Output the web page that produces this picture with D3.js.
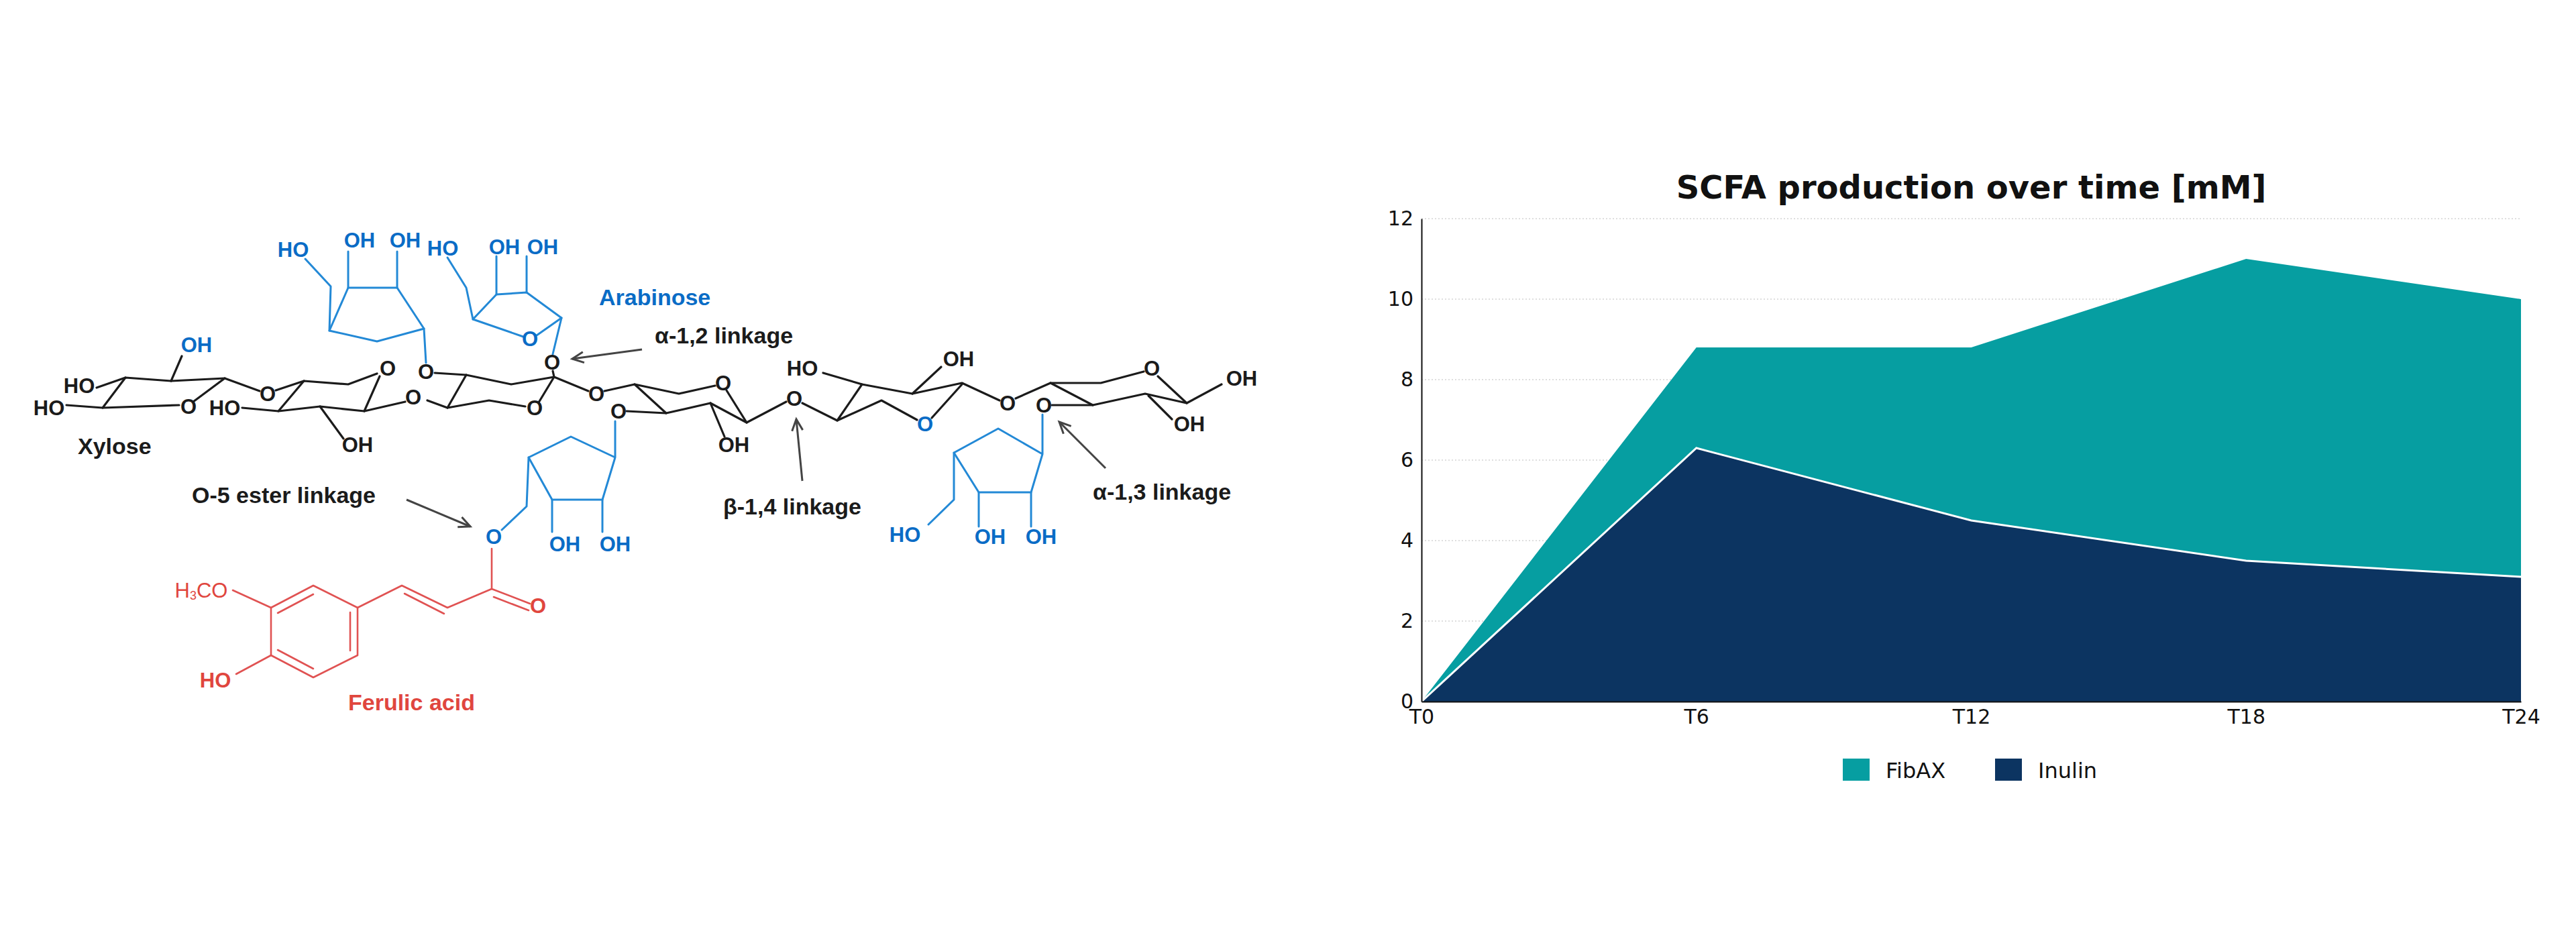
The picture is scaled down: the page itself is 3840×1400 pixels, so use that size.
<!DOCTYPE html>
<html>
<head>
    <meta charset="utf-8">
    <title>Arabinoxylan and SCFA production</title>
    <script src="https://d3js.org/d3.v7.min.js"></script>
    <style>
        body { margin: 0; background: white; }
        .atom { font-family: "Liberation Sans", Arial, sans-serif; font-weight: bold; font-size: 31px; }
        .note { font-family: "Liberation Sans", Arial, sans-serif; font-weight: bold; font-size: 34px; }
        .title { font-family: "DejaVu Sans", sans-serif; font-weight: bold; font-size: 48px; fill: #111; }
        .tick text { font-family: "DejaVu Sans", sans-serif; font-size: 30px; fill: #111; }
        .legend text { font-family: "DejaVu Sans", sans-serif; font-size: 32px; fill: #111; }
    </style>
</head>
<body>
<script>
    // chart values
    var timePoints = ["T0", "T6", "T12", "T18", "T24"];
    var fibaxValues = [0, 8.8, 8.8, 11.0, 10.0];
    var inulinValues = [0, 6.3, 4.5, 3.5, 3.1];
    var yTicks = [0, 2, 4, 6, 8, 10, 12];
    var seriesNames = ["FibAX", "Inulin"];
    var seriesColors = ["#069ea1", "#0c3461"];

    // structure drawing (pixel layout of the illustration)
    var blackBonds = [
        [[144,578],[187,563],[255,568],[335,564],[387,583]],
        [[255,568],[271,531]],
        [[335,564],[288,599]],
        [[267,604],[153,608],[99,604]],
        [[153,608],[187,563]],
        [[361,608],[415,613],[453,568],[519,573],[562,557]],
        [[411,582],[453,568]],
        [[566,561],[543,613]],
        [[415,613],[477,606],[543,613],[604,599]],
        [[477,606],[512,654]],
        [[648,556],[695,559],[762,573],[826,562]],
        [[824,553],[826,562],[877,583]],
        [[826,562],[803,600]],
        [[637,597],[667,608],[729,597],[783,606]],
        [[667,608],[695,559]],
        [[901,583],[946,573],[1012,587],[1066,575]],
        [[1083,582],[1113,630],[1172,599]],
        [[934,613],[993,616],[1059,601],[1113,630]],
        [[946,573],[993,616]],
        [[1059,601],[1080,651]],
        [[1196,601],[1248,627],[1314,597],[1367,626]],
        [[1227,556],[1285,573],[1360,587],[1434,571],[1490,597]],
        [[1285,573],[1248,627]],
        [[1360,587],[1403,547]],
        [[1434,573],[1389,623]],
        [[1514,594],[1566,571],[1641,571],[1705,554]],
        [[1726,561],[1769,601],[1821,573]],
        [[1568,604],[1629,604],[1707,587],[1769,601]],
        [[1566,571],[1629,604]],
        [[1712,590],[1747,625]]
    ];
    var blueBonds = [
        [[632,490],[562,509],[491,493],[519,429],[592,429],[632,490]],
        [[632,490],[635,541]],
        [[491,493],[493,427],[455,386]],
        [[519,429],[519,375]],
        [[592,429],[592,375]],
        [[780,502],[705,476],[740,439],[785,436],[837,474],[800,500]],
        [[705,476],[695,429],[667,384]],
        [[740,439],[740,382]],
        [[785,436],[785,382]],
        [[837,474],[824,528]],
        [[917,628],[917,682],[851,651],[788,682],[823,745],[898,745],[917,682]],
        [[788,682],[785,755],[748,790]],
        [[823,745],[823,793]],
        [[898,745],[898,793]],
        [[1554,618],[1554,677],[1488,639],[1422,675],[1459,734],[1537,734],[1554,677]],
        [[1422,675],[1422,745],[1384,782]],
        [[1459,734],[1459,785]],
        [[1537,734],[1537,785]]
    ];
    var redBonds = [
        [[733,818],[733,878],[790,900]],
        [[736,890],[788,910]],
        [[733,878],[667,906],[599,873],[533,906]],
        [[603,885],[662,915]],
        [[404,906],[467,873],[533,906],[533,977],[467,1010],[404,977],[404,906]],
        [[414,914],[467,886]],
        [[522,913],[522,970]],
        [[414,969],[467,997]],
        [[347,880],[404,906]],
        [[352,1005],[404,977]]
    ];
    var atomLabels = [
        {t:"HO", x:118, y:575, c:"k"}, {t:"HO", x:73, y:608, c:"k"},
        {t:"O", x:281, y:606, c:"k"}, {t:"HO", x:335, y:608, c:"k"},
        {t:"O", x:399, y:587, c:"k"}, {t:"O", x:578, y:549, c:"k"},
        {t:"OH", x:533, y:663, c:"k"}, {t:"O", x:616, y:592, c:"k"},
        {t:"O", x:635, y:554, c:"k"}, {t:"O", x:823, y:540, c:"k"},
        {t:"O", x:797, y:608, c:"k"}, {t:"O", x:889, y:587, c:"k"},
        {t:"O", x:922, y:613, c:"k"}, {t:"O", x:1078, y:571, c:"k"},
        {t:"OH", x:1094, y:663, c:"k"}, {t:"O", x:1184, y:594, c:"k"},
        {t:"HO", x:1196, y:549, c:"k"}, {t:"OH", x:1429, y:535, c:"k"},
        {t:"O", x:1502, y:601, c:"k"}, {t:"O", x:1556, y:604, c:"k"},
        {t:"O", x:1717, y:549, c:"k"}, {t:"OH", x:1851, y:564, c:"k"},
        {t:"OH", x:1773, y:632, c:"k"},
        {t:"OH", x:293, y:514, c:"b"},
        {t:"HO", x:437, y:372, c:"b"}, {t:"OH", x:536, y:358, c:"b"}, {t:"OH", x:604, y:358, c:"b"},
        {t:"HO", x:660, y:370, c:"b"}, {t:"OH", x:752, y:368, c:"b"}, {t:"OH", x:809, y:368, c:"b"},
        {t:"O", x:790, y:505, c:"b"},
        {t:"O", x:736, y:800, c:"b"}, {t:"OH", x:842, y:811, c:"b"}, {t:"OH", x:917, y:811, c:"b"},
        {t:"HO", x:1349, y:797, c:"b"}, {t:"OH", x:1476, y:800, c:"b"}, {t:"OH", x:1552, y:800, c:"b"},
        {t:"O", x:1379, y:632, c:"b"},
        {t:"HO", x:321, y:1014, c:"r"}, {t:"O", x:802, y:903, c:"r"}
    ];
    var notes = [
        {t:"Xylose", x:116, y:665, c:"k"},
        {t:"Arabinose", x:893, y:443, c:"b"},
        {t:"α-1,2 linkage", x:976, y:500, c:"k"},
        {t:"O-5 ester linkage", x:286, y:738, c:"k"},
        {t:"β-1,4 linkage", x:1078, y:755, c:"k"},
        {t:"α-1,3 linkage", x:1629, y:733, c:"k"},
        {t:"Ferulic acid", x:519, y:1047, c:"r"}
    ];
    var arrows = [
        [[606,745],[701,785]],
        [[957,521],[853,535]],
        [[1196,717],[1187,625]],
        [[1648,698],[1579,629]]
    ];
    var textColor = {k:"#1b1b1b", b:"#0a6cc6", r:"#e0463e"};

    var W = 3840, H = 1400;
    var svg = d3.select("body").append("svg").attr("width", W).attr("height", H);

    // ---- structure ----
    svg.append("defs").append("marker")
        .attr("id", "head").attr("markerUnits", "userSpaceOnUse")
        .attr("markerWidth", 26).attr("markerHeight", 22)
        .attr("refX", 20).attr("refY", 10).attr("orient", "auto")
        .append("path").attr("d", "M3,2 L20,10 L3,18")
        .attr("fill", "none").attr("stroke", "#444").attr("stroke-width", 3);

    var mol = svg.append("g");
    var line = d3.line();
    function bonds(list, color, w) {
        mol.selectAll(null).data(list).enter().append("path")
            .attr("d", line).attr("fill", "none")
            .attr("stroke", color).attr("stroke-width", w)
            .attr("stroke-linejoin", "round").attr("stroke-linecap", "round");
    }
    bonds(blackBonds, "#1b1b1b", 3.2);
    bonds(blueBonds, "#2389d6", 3);
    bonds(redBonds, "#e05252", 2.6);

    mol.selectAll(null).data(arrows).enter().append("path")
        .attr("d", line).attr("stroke", "#444").attr("stroke-width", 3)
        .attr("marker-end", "url(#head)");

    mol.selectAll(null).data(atomLabels).enter().append("text")
        .attr("class", "atom")
        .attr("x", function(d){ return d.x; }).attr("y", function(d){ return d.y; })
        .attr("text-anchor", "middle").attr("dominant-baseline", "central")
        .attr("fill", function(d){ return textColor[d.c]; })
        .text(function(d){ return d.t; });

    var h3co = mol.append("text").attr("class", "atom")
        .attr("x", 300).attr("y", 880).attr("text-anchor", "middle")
        .attr("dominant-baseline", "central").attr("fill", textColor.r)
        .style("font-weight", "normal");
    h3co.append("tspan").text("H");
    h3co.append("tspan").text("3").style("font-size", "18px").attr("dy", 8);
    h3co.append("tspan").text("CO").attr("dy", -8);

    mol.selectAll(null).data(notes).enter().append("text")
        .attr("class", "note")
        .attr("x", function(d){ return d.x; }).attr("y", function(d){ return d.y; })
        .attr("dominant-baseline", "central")
        .attr("fill", function(d){ return textColor[d.c]; })
        .text(function(d){ return d.t; });

    // ---- chart ----
    var plotLeft = 2119, plotRight = 3758, plotTop = 326, plotBottom = 1046;
    var x = d3.scalePoint().domain(timePoints).range([plotLeft, plotRight]);
    var y = d3.scaleLinear().domain([0, 12]).range([plotBottom, plotTop]);
    var chart = svg.append("g");

    chart.append("text").attr("class", "title")
        .attr("x", (plotLeft + plotRight) / 2).attr("y", 296)
        .attr("text-anchor", "middle")
        .text("SCFA production over time [mM]");

    chart.selectAll(".grid").data(yTicks.filter(function(d){ return d > 0; }))
        .enter().append("line").attr("class", "grid")
        .attr("x1", plotLeft).attr("x2", plotRight)
        .attr("y1", function(d){ return y(d); }).attr("y2", function(d){ return y(d); })
        .attr("stroke", "#d4d4d4").attr("stroke-width", 1.5)
        .attr("stroke-dasharray", "2,3");

    var series = [fibaxValues, inulinValues];
    var area = d3.area()
        .x(function(d, i){ return x(timePoints[i]); })
        .y0(y(0))
        .y1(function(d){ return y(d); });
    chart.selectAll(".area").data(series).enter().append("path")
        .attr("class", "area")
        .attr("d", area)
        .attr("fill", function(d, i){ return seriesColors[i]; });

    chart.append("path")
        .attr("d", d3.line().x(function(d, i){ return x(timePoints[i]); }).y(function(d){ return y(d); })(inulinValues))
        .attr("fill", "none").attr("stroke", "white").attr("stroke-width", 3);

    var yAxis = chart.append("g").attr("transform", "translate(" + plotLeft + ",0)")
        .call(d3.axisLeft(y).tickValues(yTicks).tickSize(0).tickSizeOuter(0).tickPadding(12));
    var xAxis = chart.append("g").attr("transform", "translate(0," + plotBottom + ")")
        .call(d3.axisBottom(x).tickSize(0).tickSizeOuter(0).tickPadding(12));
    [yAxis, xAxis].forEach(function(a){
        a.select(".domain").attr("stroke", "#111").attr("stroke-width", 2);
    });

    var legend = chart.append("g").attr("class", "legend");
    var legendX = [2747, 2974];
    var items = legend.selectAll("g").data(seriesNames).enter().append("g")
        .attr("transform", function(d, i){ return "translate(" + legendX[i] + ",1131)"; });
    items.append("rect").attr("width", 40).attr("height", 33)
        .attr("fill", function(d, i){ return seriesColors[i]; });
    items.append("text").attr("x", 64).attr("y", 29).text(function(d){ return d; });
</script>
</body>
</html>
